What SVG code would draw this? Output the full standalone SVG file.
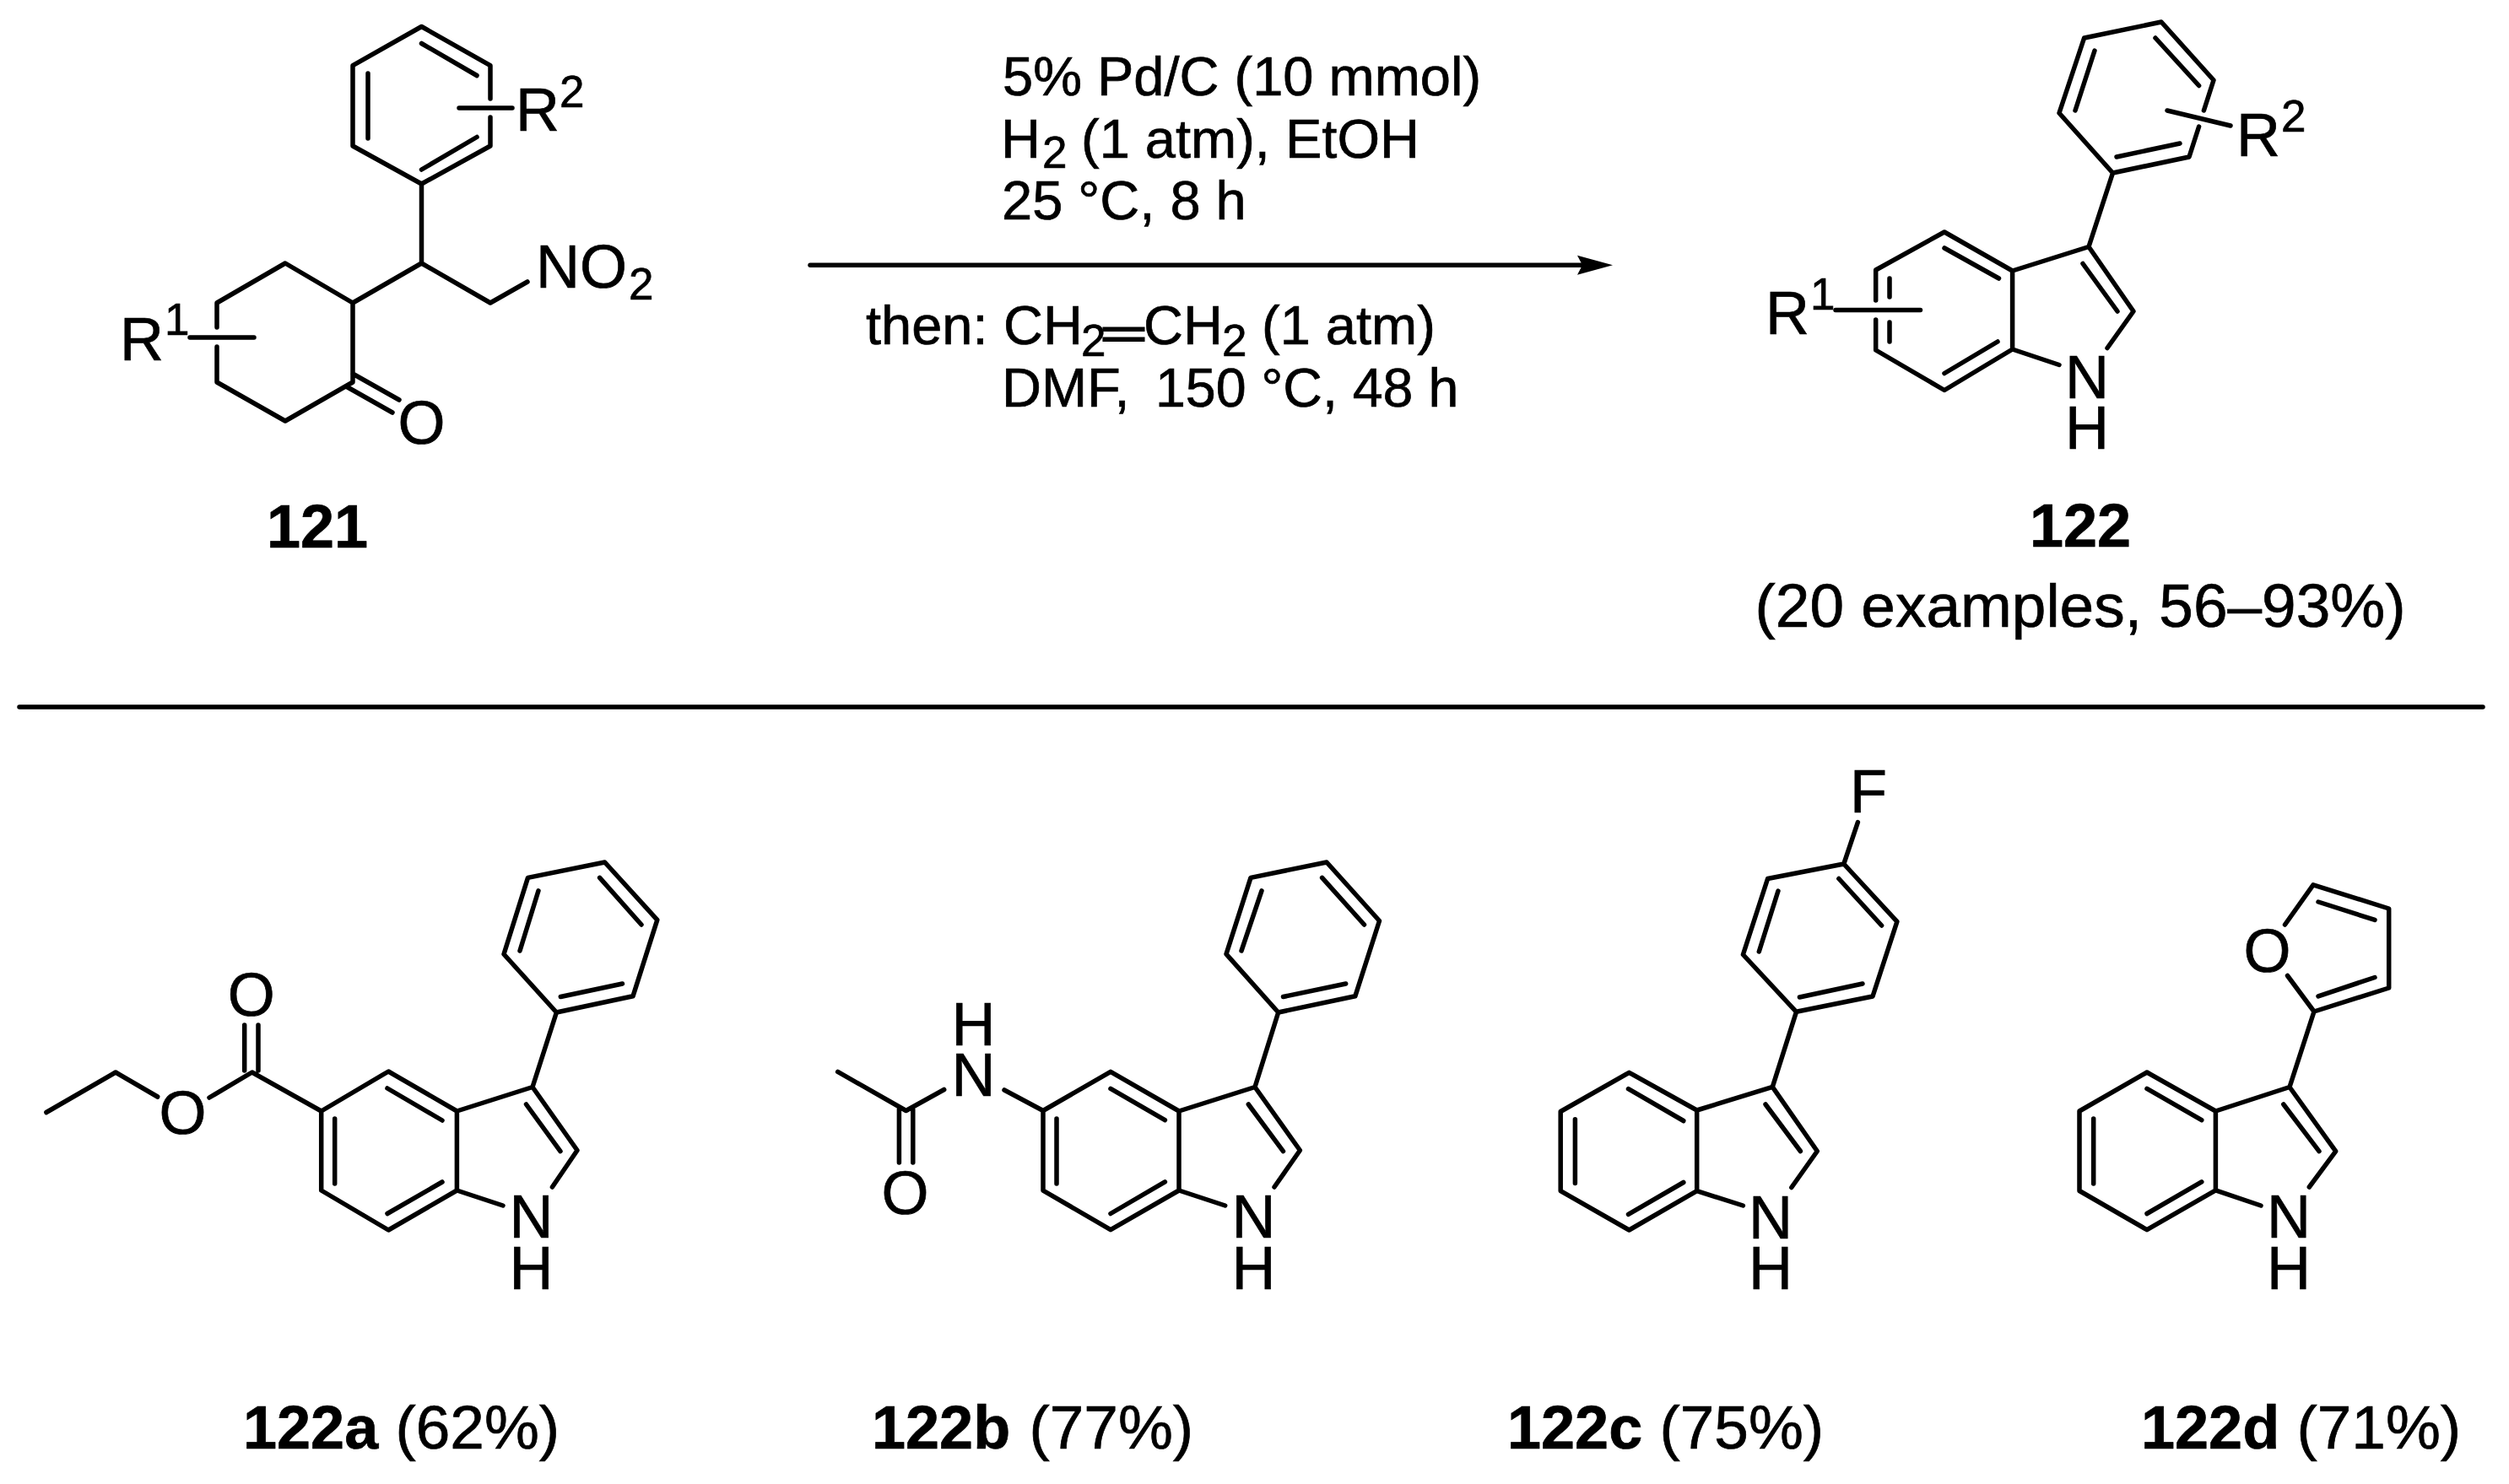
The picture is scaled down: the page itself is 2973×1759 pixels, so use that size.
<svg xmlns="http://www.w3.org/2000/svg" width="2973" height="1759" viewBox="0 0 2973 1759">
<style>
text{font-family:"Liberation Sans",Arial,sans-serif;fill:#000;stroke:#000;stroke-width:.7}
.a{font-size:72px}
.r{font-size:65px}
.s{font-size:53px}
.b{font-size:72px;font-weight:700}
.p{font-size:73px}
.m{text-anchor:middle}
path,line{fill:none;stroke:#000;stroke-width:5.5;stroke-linejoin:round;stroke-linecap:round}
</style>
<defs><marker id="ah" markerUnits="userSpaceOnUse" markerWidth="44" markerHeight="26" refX="12" refY="13" orient="auto"><polygon points="0,1.500 42,13 0,24.500 6,13" fill="#000"/></marker></defs>
<rect width="2973" height="1759" fill="#fff"/>
<g id="n121">
<path d="M581 117V77.700L499.500 31.500L418 77.700V173L499.500 218L581 173V139M499.500 51.500L565 89.500M436 87V164M499.500 201L565 162.500M544 128H607M499.500 218V312L418 359M499.500 312L581 359L625 334M418 359L338 312L257 359V388M257 411V453L338 499L418 453V359M418 443L473 474M411 458.500L465 489M225 400H301"/>
<text class="a" x="611" y="155">R</text><text class="s" x="663" y="127">2</text>
<text class="a" x="635" y="341">NO</text><text class="s" x="745" y="355">2</text>
<text class="a m" x="499.500" y="526">O</text>
<text class="a" x="142" y="427">R</text><text class="s" x="195" y="397">1</text>
<text class="b m" x="376" y="649">121</text>
</g>
<g id="n122">
<path d="M2611.400 131L2623 95L2561 26L2469.600 45L2440 134L2503.500 205L2594 186L2605.600 150M2554 45L2605.600 101.500M2482 60L2459 131M2508 186L2583 170M2568 131L2643 149M2503.500 205L2475 292.500L2528 369L2497 412.500M2475 292.500L2384.600 321V414L2440 432.500M2384.600 321L2304 275L2222.700 320V356M2222.700 379V415L2304 462.500L2384.600 414M2468 312.500L2509 369M2304 294L2368.500 330M2304 442.500L2367 405M2239 330V352M2239 382V405M2175 367.500H2275.500"/>
<text class="a" x="2650" y="185">R</text><text class="s" x="2703" y="156">2</text>
<text class="a" x="2092" y="396">R</text><text class="s" x="2145" y="367">1</text>
<text class="a m" x="2473" y="471.500">N</text><text class="a m" x="2473" y="531.500">H</text>
<text class="b m" x="2465" y="648">122</text>
<text class="p m" x="2465" y="743">(20 examples, 56–93%)</text>
</g>
<g id="reagents">
<text class="r" x="1188" y="113">5% Pd/C (10 mmol)</text>
<text class="r" x="1186" y="186.700">H</text><text class="s" x="1235" y="199">2</text><text class="r" x="1281" y="186.700">(1 atm), EtOH</text>
<text class="r" x="1187" y="260">25 °C, 8 h</text>
<text class="r" x="1026" y="408">then:</text>
<text class="r" x="1189" y="408">CH</text><text class="s" x="1281" y="421.700">2</text>
<text class="r" transform="translate(1304 411.500) scale(1.450 .75)" style="stroke-width:3">=</text>
<text class="r" x="1355" y="408">CH</text><text class="s" x="1448" y="421.700">2</text><text class="r" x="1495" y="408">(1 atm)</text>
<text class="r" x="1187" y="481.700">DMF,</text><text class="r" style="font-size:64.500px" x="1369" y="481.700">150 °C, 48 h</text>
</g>
<g id="connectors">
<line x1="960" y1="314.300" x2="1881" y2="314.300" marker-end="url(#ah)"/>
</g>
<line id="rule" x1="23" y1="838" x2="2942" y2="838"/>
<g id="n122a">
<path d="M54.900 1318.500L137 1271L186.700 1300M248 1301L298.700 1271L380.700 1317M289.700 1269V1215M306 1269V1215M380.700 1317L460.300 1270L541.400 1317V1411L460.300 1458L380.700 1411ZM459 1290L524 1328M396.700 1326V1403M459 1438.500L524 1401M541.400 1317L631 1288.500L684 1363.500L654.400 1407M541.400 1411L596 1429M623.500 1309L664 1364.600M631 1288.500L659.400 1200L597 1131L625.500 1040.400L716.600 1022L778.800 1090.400L750 1180.800L659.400 1200M616 1127L638 1055.800M710.600 1040.400L760 1096M664.300 1181.500L737.500 1166"/>
<text class="a m" x="216.600" y="1344">O</text><text class="a m" x="297.700" y="1204">O</text>
<text class="a m" x="629.500" y="1467">N</text><text class="a m" x="629.500" y="1527.700">H</text>
</g>
<g id="n122b">
<path d="M992.700 1270.400L1073.600 1316.500L1118.700 1291.500M1065.400 1315V1378M1081.800 1315V1378M1190 1292L1236 1316.500M1236 1316.500L1316 1270.400L1397 1317V1411L1316 1457.700L1236 1411ZM1316 1290.400L1380.400 1327.700M1252 1326V1403M1316 1438.500L1380.400 1400.800M1397 1317L1487 1288.500L1540.400 1363.500L1510 1407M1397 1411L1451.700 1429M1479.300 1309L1520.500 1364.600M1487 1288.500L1514.700 1200L1453 1130.800L1482 1040.400L1572 1022L1634.500 1091.500L1605.800 1180.800L1514.700 1200M1471 1127L1495 1055.800M1566.600 1040.400L1616.500 1096M1520.500 1181.500L1594.700 1166"/>
<text class="a m" x="1072.600" y="1438.500">O</text><text class="a m" x="1153.600" y="1299">N</text><text class="a m" x="1153.600" y="1238.500">H</text>
<text class="a m" x="1485.600" y="1467">N</text><text class="a m" x="1485.600" y="1527.700">H</text>
</g>
<g id="n122c">
<path d="M2201.400 974.600L2184.800 1024L2247.900 1092.300L2219 1181L2128.500 1199.300L2065.400 1131.500L2094.600 1041.500L2184.800 1024M2178.900 1041.500L2229.600 1097M2107 1056L2084.300 1128M2132.400 1182L2207 1166M2128.500 1199.300L2100.300 1288.400L2010.700 1316V1411.600L1930.400 1458L1849.200 1411.600V1317.500L1930.400 1271.300L2010.700 1316M1929.500 1290.700L1994.800 1328.500M1866.400 1326.700V1402.400M1929.500 1439.300L1994.800 1401.500M2100.300 1288.400L2153.300 1364.500L2122.800 1407.500M2010.700 1411.600L2065.400 1429M2092 1309L2133.400 1364.500"/>
<text class="a m" x="2214" y="963">F</text>
<text class="a m" x="2098" y="1468">N</text><text class="a m" x="2098" y="1528">H</text>
</g>
<g id="n122d">
<path d="M2707.500 1096L2741 1048.800L2830.700 1077V1171L2742 1199L2710.500 1156.500M2747 1069L2814 1090.400M2747 1180.800L2814 1158.500M2742 1199L2713 1288.500L2625.400 1317V1410.800L2544 1457.700L2464 1411.500V1317L2544 1271L2625.400 1317M2544 1290.400L2608.800 1327.700M2480.700 1326V1403M2544 1438.500L2608.800 1400.800M2713 1288.500L2767.700 1364.600L2736.300 1407M2625.400 1410.800L2679 1429M2705.800 1309L2748 1364.600"/>
<text class="a m" x="2686.600" y="1152">O</text>
<text class="a m" x="2712" y="1467">N</text><text class="a m" x="2712" y="1527.700">H</text>
</g>
<g id="labels">
<text class="p" x="288" y="1717"><tspan class="b">122a</tspan><tspan dx="0"> (62%)</tspan></text>
<text class="p" x="1033" y="1717"><tspan class="b">122b</tspan><tspan dx="2"> (77%)</tspan></text>
<text class="p" x="1786" y="1717"><tspan class="b">122c</tspan><tspan dx="0"> (75%)</tspan></text>
<text class="p" x="2537" y="1717"><tspan class="b">122d</tspan><tspan dx="0"> (71%)</tspan></text>
</g>
</svg>
